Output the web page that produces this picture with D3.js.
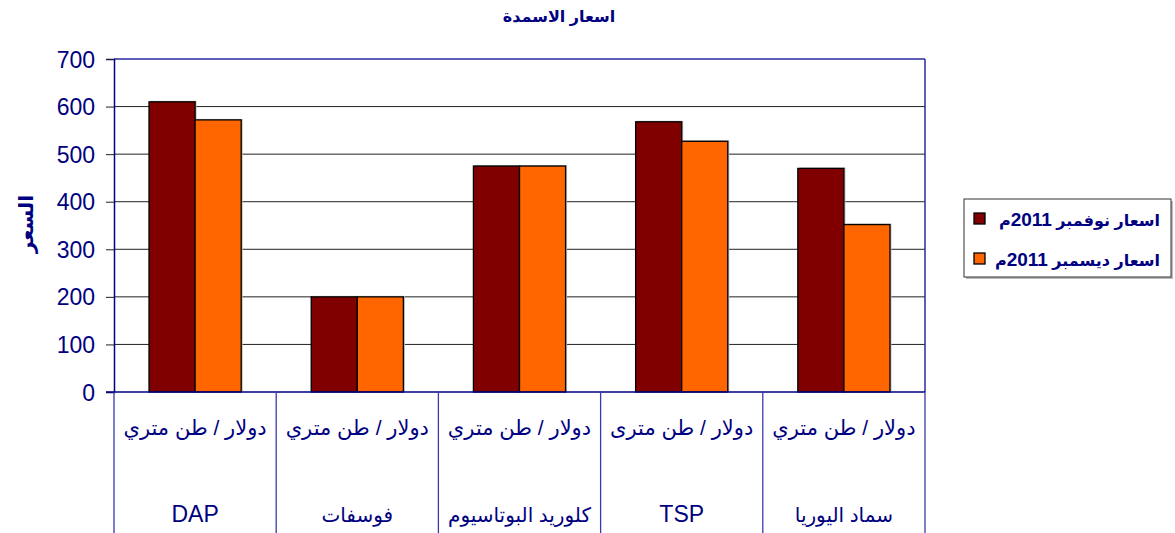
<!DOCTYPE html>
<html>
<head>
<meta charset="utf-8">
<script src="https://cdn.jsdelivr.net/npm/d3@7"></script>
<style>
  body { margin: 0; background: #fff; }
  svg text { font-family: "Liberation Sans", Arial, "DejaVu Sans", sans-serif; }
</style>
</head>
<body>
<div id="chart"></div>
<script>
// data
var categories = ["DAP", "فوسفات", "كلوريد البوتاسيوم", "TSP", "سماد اليوريا"];
var unitLabels = ["دولار / طن متري", "دولار / طن متري", "دولار / طن متري", "دولار / طن مترى", "دولار / طن متري"];
var seriesNames = ["اسعار نوفمبر 2011م", "اسعار ديسمبر 2011م"];
var novPrices = [610, 200, 475, 568, 470];
var decPrices = [572, 200, 475, 527, 352];
var yTicks = [0, 100, 200, 300, 400, 500, 600, 700];
var colors = ["#800000", "#FF6600"];

var width = 1175, height = 533;
var navy = "#000080";
var plotLeft = 114, plotRight = 925, plotTop = 59, plotBottom = 392;

function isArabic(s) { return /[\u0600-\u06FF]/.test(s); }

var svg = d3.select("#chart").append("svg")
    .attr("width", width)
    .attr("height", height);

var x0 = d3.scaleBand().domain(categories).range([plotLeft, plotRight]).padding(0);
var x1 = d3.scaleBand().domain([0, 1]).range([0, x0.bandwidth()])
    .paddingInner(0).paddingOuter(0.76);
var y = d3.scaleLinear().domain([0, 700]).range([plotBottom, plotTop]);

// title
svg.append("text")
    .attr("x", 559).attr("y", 22)
    .attr("text-anchor", "middle")
    .attr("fill", navy)
    .style("font-size", "16px").style("font-weight", "bold")
    .text("اسعار الاسمدة");

// gridlines
svg.append("g").selectAll("line")
    .data(yTicks.filter(function(d){ return d > 0 && d < 700; }))
    .enter().append("line")
    .attr("x1", plotLeft).attr("x2", plotRight)
    .attr("y1", function(d){ return y(d); })
    .attr("y2", function(d){ return y(d); })
    .attr("stroke", "#222").attr("stroke-width", 1);

// plot border top / right
svg.append("line").attr("x1", plotLeft).attr("x2", plotRight).attr("y1", y(700)).attr("y2", y(700))
    .attr("stroke", "#2a2aa0").attr("stroke-width", 1.5);
svg.append("line").attr("x1", plotRight).attr("x2", plotRight).attr("y1", y(700)).attr("y2", plotBottom)
    .attr("stroke", "#2a2aa0").attr("stroke-width", 1.5);

// bars
var data = categories.map(function(c, i){ return {cat: c, vals: [novPrices[i], decPrices[i]]}; });
var groups = svg.append("g").selectAll("g")
    .data(data).enter().append("g")
    .attr("transform", function(d){ return "translate(" + x0(d.cat) + ",0)"; });

groups.selectAll("rect.shadow")
    .data(function(d){ return d.vals; })
    .enter().append("rect")
    .attr("class", "shadow")
    .attr("x", function(d, i){ return x1(i) + 1.5; })
    .attr("y", function(d){ return y(d) - 1; })
    .attr("width", x1.bandwidth())
    .attr("height", function(d){ return plotBottom - y(d) + 1; })
    .attr("fill", "#bbb");

groups.selectAll("rect.bar")
    .data(function(d){ return d.vals; })
    .enter().append("rect")
    .attr("class", "bar")
    .attr("x", function(d, i){ return x1(i); })
    .attr("y", function(d){ return y(d); })
    .attr("width", x1.bandwidth())
    .attr("height", function(d){ return plotBottom - y(d); })
    .attr("fill", function(d, i){ return colors[i]; })
    .attr("stroke", "#000").attr("stroke-width", 1.3);

// y axis
var yAxis = d3.axisLeft(y).tickValues(yTicks).tickSize(8).tickPadding(11);
var ya = svg.append("g").attr("transform", "translate(" + plotLeft + ",0)").call(yAxis);
ya.select(".domain").attr("stroke", navy).attr("stroke-width", 1.5);
ya.selectAll(".tick line").attr("stroke", "#222");
ya.selectAll(".tick text")
    .attr("fill", navy)
    .style("font-size", "23px")
    .attr("dy", "0.35em");

// x axis line
svg.append("line").attr("x1", plotLeft - 8).attr("x2", plotRight).attr("y1", plotBottom).attr("y2", plotBottom)
    .attr("stroke", navy).attr("stroke-width", 1.5);

// category separators
var seps = categories.map(function(c){ return x0(c); }).concat([plotRight]);
svg.append("g").selectAll("line")
    .data(seps).enter().append("line")
    .attr("x1", function(d){ return d; }).attr("x2", function(d){ return d; })
    .attr("y1", plotBottom).attr("y2", height)
    .attr("stroke", "#3a3aa8").attr("stroke-width", 1.3);

// unit labels
svg.append("g").selectAll("text")
    .data(unitLabels).enter().append("text")
    .attr("x", function(d, i){ return x0(categories[i]) + x0.bandwidth() / 2; })
    .attr("y", 435)
    .attr("text-anchor", "middle")
    .attr("fill", navy)
    .style("font-size", "21px")
    .text(function(d){ return d; });

// category labels
svg.append("g").selectAll("text")
    .data(categories).enter().append("text")
    .attr("x", function(d){ return x0(d) + x0.bandwidth() / 2; })
    .attr("y", 522)
    .attr("text-anchor", "middle")
    .attr("fill", navy)
    .style("font-size", function(d){ return isArabic(d) ? "20px" : "23px"; })
    .text(function(d){ return d; });

// y title
svg.append("text")
    .attr("transform", "translate(33,224) rotate(-90)")
    .attr("text-anchor", "middle")
    .attr("fill", navy)
    .style("font-size", "20px").style("font-weight", "bold")
    .text("السعر");

// legend
var lg = svg.append("g");
lg.append("rect").attr("x", 966).attr("y", 201).attr("width", 207).attr("height", 78).attr("fill", "#bbb");
lg.append("rect").attr("x", 964).attr("y", 199).attr("width", 207).attr("height", 78)
    .attr("fill", "#fff").attr("stroke", "#333").attr("stroke-width", 1);
var items = lg.selectAll("g.item")
    .data(seriesNames).enter().append("g")
    .attr("transform", function(d, i){ return "translate(0," + (i * 40) + ")"; });
items.append("rect")
    .attr("x", 974).attr("y", 213).attr("width", 11).attr("height", 11)
    .attr("fill", function(d, i){ return colors[i]; })
    .attr("stroke", "#000").attr("stroke-width", 1.3);
var lt = items.append("text")
    .attr("x", 1160).attr("y", 226)
    .attr("direction", "rtl")
    .attr("text-anchor", "start")
    .attr("fill", navy)
    .style("font-size", "16px").style("font-weight", "bold");
lt.append("tspan").text(function(d){ return d.replace(/2011م$/, ""); });
lt.append("tspan").style("font-size", "19px").text("2011");
lt.append("tspan").text("م");
</script>
</body>
</html>
